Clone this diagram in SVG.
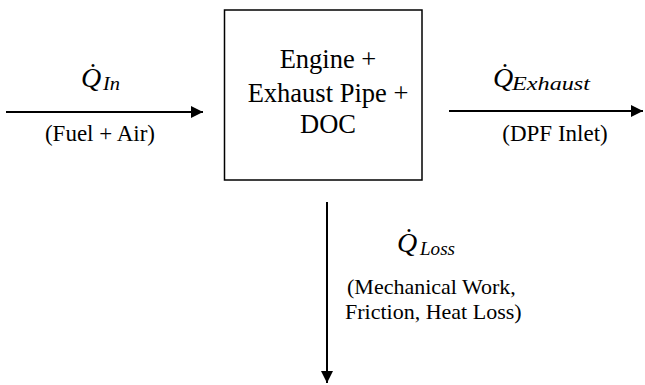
<svg xmlns="http://www.w3.org/2000/svg" width="645" height="385" viewBox="0 0 645 385">
  <style>
    .lbl { font-family: "Liberation Serif", "Times New Roman", serif; fill: #000; }
    .box { font-size: 26.5px; text-anchor: middle; }
    .note { font-size: 23px; }
    .loss { font-size: 22px; }
    .q { font-family: "Liberation Serif", "Times New Roman", serif; font-style: italic; font-size: 28px; fill: #000; }
    .sub { font-family: "Liberation Serif", "Times New Roman", serif; font-style: italic; font-size: 19px; fill: #000; }
    .line { stroke: #000; stroke-width: 2; fill: none; }
  </style>
  <defs>
    <marker id="head" viewBox="0 0 10 10" refX="10" refY="5" markerWidth="12" markerHeight="12" markerUnits="userSpaceOnUse" orient="auto">
      <path d="M0,0 L10,5 L0,10 z" fill="#000"/>
    </marker>
  </defs>

  <!-- control volume -->
  <g id="system">
    <rect x="224.5" y="10" width="197.5" height="170" fill="#fff" stroke="#000" stroke-width="1.5"/>
    <text class="lbl box" x="328" y="68">Engine +</text>
    <text class="lbl box" x="328" y="101.5">Exhaust Pipe +</text>
    <text class="lbl box" x="328" y="133">DOC</text>
  </g>

  <!-- energy flows -->
  <g id="connectors">
    <line class="line" x1="6" y1="112" x2="203" y2="112" marker-end="url(#head)"/>
    <line class="line" x1="449" y1="111" x2="643" y2="111" marker-end="url(#head)"/>
    <line class="line" x1="327" y1="202" x2="327" y2="383" marker-end="url(#head)"/>
  </g>

  <g id="heat-in">
    <text class="q" x="81" y="87">Q&#x307;</text>
    <text class="sub" x="103" y="90" textLength="17" lengthAdjust="spacingAndGlyphs">In</text>
    <text class="lbl note" x="100" y="141" text-anchor="middle">(Fuel + Air)</text>
  </g>

  <g id="heat-exhaust">
    <text class="q" x="493" y="87">Q&#x307;</text>
    <text class="sub" x="512" y="90" textLength="78" lengthAdjust="spacingAndGlyphs">Exhaust</text>
    <text class="lbl note" x="555" y="141" text-anchor="middle">(DPF Inlet)</text>
  </g>

  <g id="heat-loss">
    <text class="q" x="397" y="252">Q&#x307;</text>
    <text class="sub" x="420" y="255" textLength="35" lengthAdjust="spacingAndGlyphs">Loss</text>
    <text class="lbl loss" x="347" y="294">(Mechanical Work,</text>
    <text class="lbl loss" x="345" y="319">Friction, Heat Loss)</text>
  </g>
</svg>
